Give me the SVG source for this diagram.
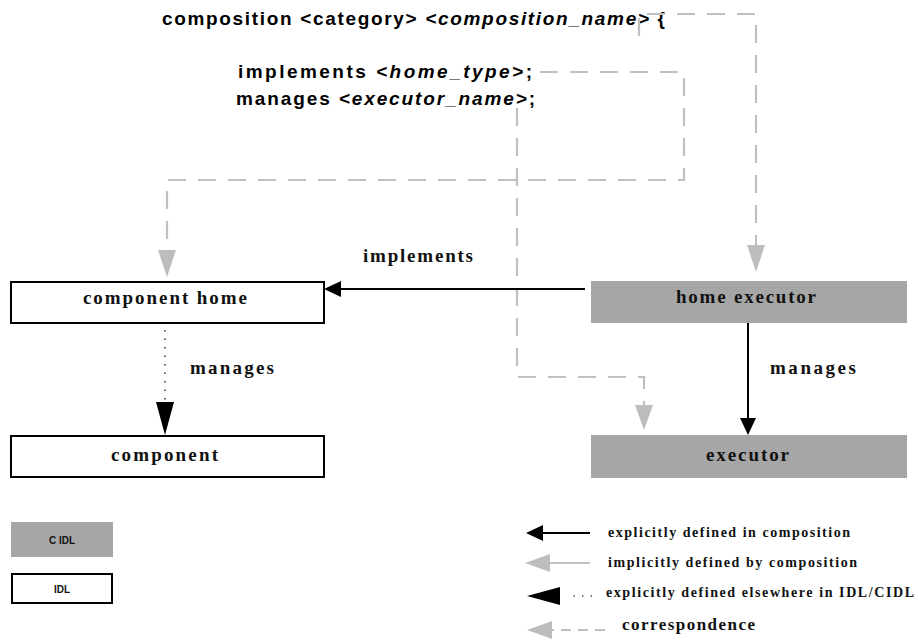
<svg xmlns="http://www.w3.org/2000/svg" width="918" height="640" viewBox="0 0 918 640">
<style>
.code{font-family:"Liberation Sans",Arial,sans-serif;font-weight:bold;font-size:19px;fill:#000}
.it{font-style:italic}
.lbl{font-family:"Liberation Serif","Times New Roman",serif;font-weight:bold;font-size:19px;fill:#111}
.leg{font-family:"Liberation Serif","Times New Roman",serif;font-weight:bold;font-size:14px;fill:#111}
.small{font-family:"Liberation Sans",Arial,sans-serif;font-weight:bold;font-size:10px;fill:#111}
.white{fill:#fff;stroke:#000;stroke-width:2}
.gray{fill:#a6a6a6;stroke:none}
.solid{fill:none;stroke:#000;stroke-width:2}
.dot{fill:none;stroke:#000;stroke-width:1.2;stroke-dasharray:1.5 7}
.dash{fill:none;stroke:#c0c0c0;stroke-width:2.2;stroke-dasharray:18 12}
.gline{fill:none;stroke:#c0c0c0;stroke-width:2}
</style>
<defs>
<marker id="blk" markerUnits="userSpaceOnUse" markerWidth="18" markerHeight="18" refX="0" refY="8" orient="auto" overflow="visible"><path d="M0,0 L17,8 L0,16 z" fill="#000"/></marker>
<marker id="blkBig" markerUnits="userSpaceOnUse" markerWidth="34" markerHeight="20" refX="0" refY="9" orient="auto" overflow="visible"><path d="M0,0 L33,9 L0,18 z" fill="#000"/></marker>
<marker id="gry" markerUnits="userSpaceOnUse" markerWidth="28" markerHeight="20" refX="0" refY="9" orient="auto" overflow="visible"><path d="M0,0 L27,9 L0,18 z" fill="#bdbdbd"/></marker>
<marker id="gryS" markerUnits="userSpaceOnUse" markerWidth="26" markerHeight="20" refX="0" refY="9" orient="auto" overflow="visible"><path d="M0,0 L25,9 L0,18 z" fill="#bdbdbd"/></marker>
</defs>

<g id="code">
<text class="code" x="162" y="25" textLength="503" lengthAdjust="spacing">composition &lt;category&gt; <tspan class="it">&lt;composition_name&gt;</tspan> {</text>
<text class="code" x="238" y="78" textLength="294" lengthAdjust="spacing">implements <tspan class="it">&lt;home_type&gt;</tspan>;</text>
<text class="code" x="236" y="105" textLength="299" lengthAdjust="spacing">manages <tspan class="it">&lt;executor_name&gt;</tspan>;</text>
</g>

<g id="connectors">
<path class="dash" d="M639,36 V14 H756 V245" marker-end="url(#gry)"/>
<path class="dash" d="M540,72 H684 V180 H167 V250" marker-end="url(#gry)"/>
<path class="dash" d="M517,108 V377 H644 V405" marker-end="url(#gryS)"/>
<path class="solid" d="M585,289 H341" marker-end="url(#blk)"/>
<path class="dot" d="M165,330 V402"/>
<path d="M165,401 V402" marker-end="url(#blkBig)"/>
<path class="solid" d="M748,323 V418" marker-end="url(#blk)"/>
<text class="lbl" x="363" y="262" textLength="110" lengthAdjust="spacing">implements</text>
<text class="lbl" x="190" y="374" textLength="84" lengthAdjust="spacing">manages</text>
<text class="lbl" x="770" y="374" textLength="86" lengthAdjust="spacing">manages</text>
</g>

<g id="component-home">
<rect class="white" x="11" y="282" width="313" height="41"/>
<text class="lbl" x="83" y="304" textLength="164" lengthAdjust="spacing">component home</text>
</g>
<g id="component">
<rect class="white" x="11" y="436" width="313" height="41"/>
<text class="lbl" x="111" y="461" textLength="107" lengthAdjust="spacing">component</text>
</g>
<g id="home-executor">
<rect class="gray" x="591" y="281" width="316" height="42"/>
<text class="lbl" x="676" y="303" textLength="140" lengthAdjust="spacing">home executor</text>
</g>
<g id="executor">
<rect class="gray" x="591" y="435" width="316" height="43"/>
<text class="lbl" x="706" y="461" textLength="83" lengthAdjust="spacing">executor</text>
</g>

<g id="legend">
<rect class="gray" x="11" y="522" width="102" height="35"/>
<text class="small" x="62" y="544" text-anchor="middle">C IDL</text>
<rect class="white" x="12" y="574" width="100" height="29"/>
<text class="small" x="62" y="593" text-anchor="middle">IDL</text>

<path class="solid" d="M590,533 H543" marker-end="url(#blk)"/>
<text class="leg" x="608" y="537" textLength="242" lengthAdjust="spacing">explicitly defined in composition</text>
<path class="gline" d="M590,563 H550" marker-end="url(#gryS)"/>
<text class="leg" x="608" y="567" textLength="249" lengthAdjust="spacing">implicitly defined by composition</text>
<path class="dot" d="M592,596 H568"/>
<path d="M561,596 H560" marker-end="url(#blkBig)"/>
<text class="leg" x="606" y="597" textLength="308" lengthAdjust="spacing">explicitly defined elsewhere in IDL/CIDL</text>
<path class="dash" style="stroke-dasharray:10 7" d="M605,630 H552"/>
<path d="M553,630 H552" marker-end="url(#gryS)"/>
<text class="leg" x="622" y="630" style="font-size:17px" textLength="133" lengthAdjust="spacing">correspondence</text>
</g>
</svg>
